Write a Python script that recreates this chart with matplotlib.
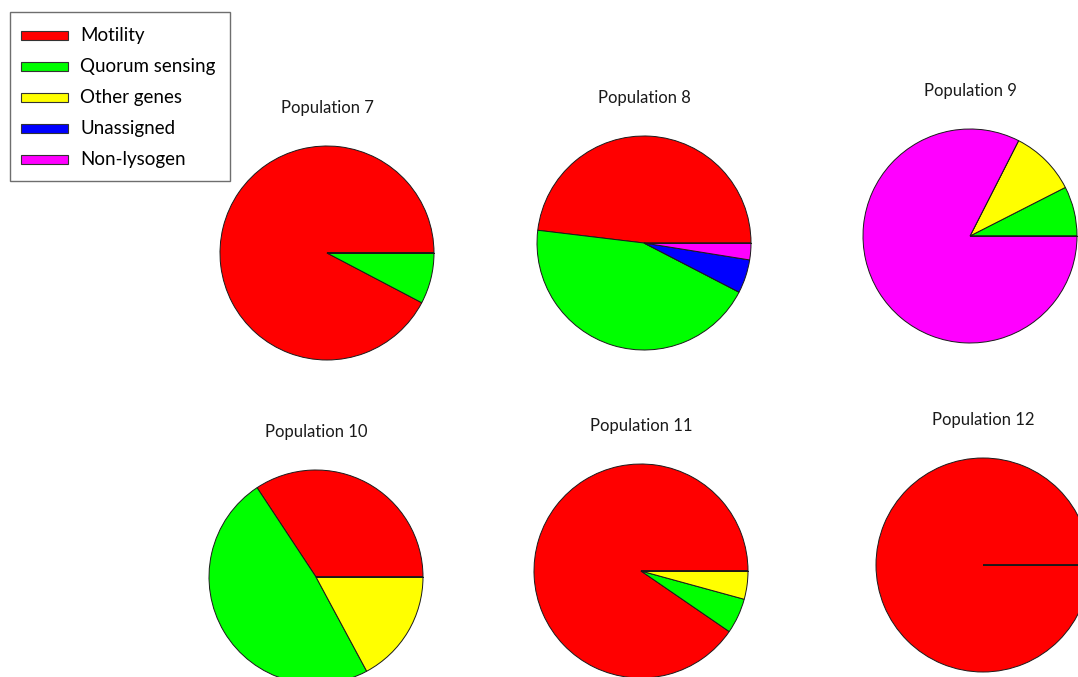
import matplotlib
matplotlib.use("Agg")
import matplotlib.pyplot as plt
from matplotlib.patches import Rectangle

plt.rcParams["font.family"] = ["Lato", "DejaVu Sans"]

# Gene categories and their colours
categories = ["Motility", "Quorum sensing", "Other genes", "Unassigned", "Non-lysogen"]
colors = ["#FF0000", "#00FF00", "#FFFF00", "#0000FF", "#FF00FF"]

# Counts per category for each population
populations = ["Population 7", "Population 8", "Population 9",
               "Population 10", "Population 11", "Population 12"]
pop7 = [12, 1, 0, 0, 0]
pop8 = [38, 35, 0, 4, 2]
pop9 = [0, 3, 4, 0, 33]
pop10 = [12, 17, 6, 0, 0]
pop11 = [85, 5, 4, 0, 0]
pop12 = [1, 0, 0, 0, 0]
counts = [pop7, pop8, pop9, pop10, pop11, pop12]

W, H = 1078, 677
fig = plt.figure(figsize=(W / 100, H / 100), dpi=100)
fig.patch.set_facecolor("white")

# pie centres (pixels from top-left) and radius
centres = [(327, 253), (644, 243), (970, 236),
           (316, 577), (641, 571), (983, 565)]
R = 107
pad = 1.08

for name, vals, (cx, cy) in zip(populations, counts, centres):
    ax = fig.add_axes([(cx - R * pad) / W, 1 - (cy + R * pad) / H,
                       2 * R * pad / W, 2 * R * pad / H])
    wedges, _ = ax.pie(vals, colors=colors, startangle=0, counterclock=True,
                       radius=1, normalize=True,
                       wedgeprops=dict(edgecolor="#1a1a1a", linewidth=0.7))
    ax.set_xlim(-pad, pad)
    ax.set_ylim(-pad, pad)
    ax.set_aspect("equal")
    ax.axis("off")
    for w in wedges:
        w.set_clip_on(False)
    # boundary of the first slice always starts at angle 0
    ax.plot([0, 1], [0, 0], color="#1a1a1a", lw=0.7, clip_on=False)
    ax.text(0, 145 / R, name, ha="center", va="center", fontsize=12,
            color="#1a1a1a", clip_on=False)

# legend drawn in pixel coordinates
lg = fig.add_axes([0, 0, 1, 1], zorder=10)
lg.set_xlim(0, W)
lg.set_ylim(H, 0)
lg.axis("off")
lg.patch.set_alpha(0)
lg.add_patch(Rectangle((9.5, 11.5), 220.5, 169.5, facecolor="white",
                       edgecolor="#6e6e6e", lw=1.0))
row0, step = 35.5, 31
for i, (lab, col) in enumerate(zip(categories, colors)):
    y = row0 + i * step
    lg.add_patch(Rectangle((20.5, y - 4.5), 47, 9, facecolor=col,
                           edgecolor="#333333", lw=0.8))
    lg.text(80, y, lab, ha="left", va="center", fontsize=13.5, color="black")

fig.savefig("out.png", dpi=100)
